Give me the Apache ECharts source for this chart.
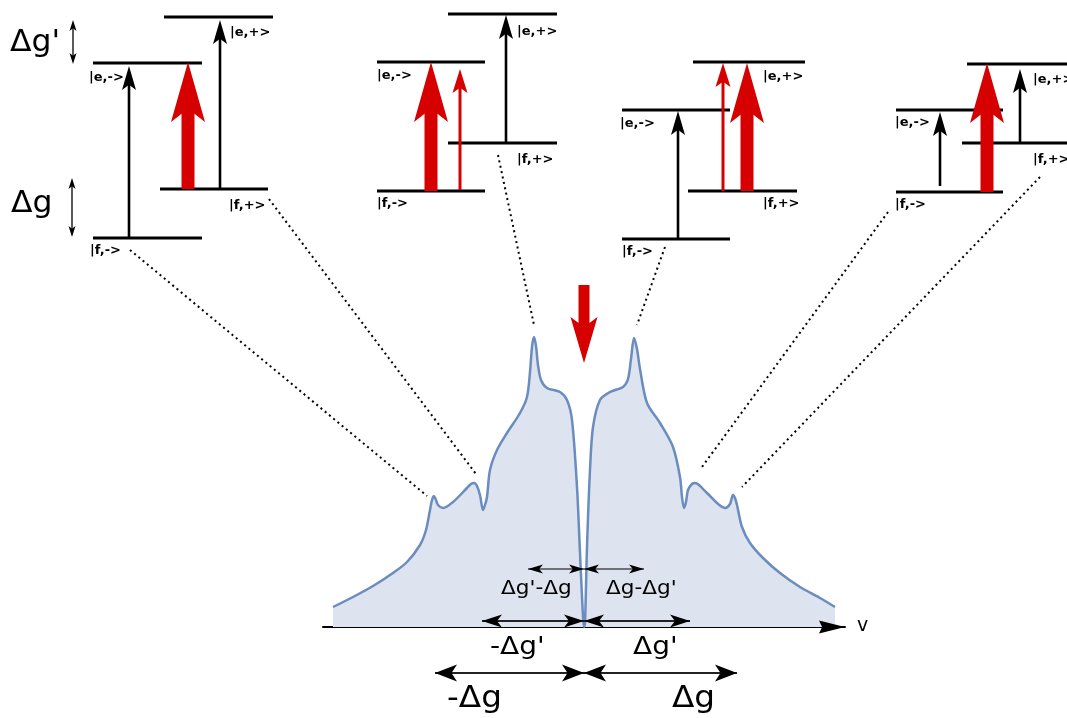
<!DOCTYPE html>
<html><head><meta charset="utf-8">
<script src="https://cdn.jsdelivr.net/npm/echarts@6/dist/echarts.min.js"></script>
<style>html,body{margin:0;padding:0;background:#fff}#c{width:1067px;height:718px}</style>
</head><body><div id="c"></div>
<script>
// ---- spectrum data (frequency offset ν from line centre, intensity) ----
const nuLeft = [-251,-231,-211,-191,-177,-164,-158,-154,-152,-150,-148,-146,-141,-131,-117,-113,-110,-107,-104,-101,-99,-97,-94,-87,-77,-64,-57,-54,-52,-50,-48,-46,-43,-37,-24,-17,-12,-7,-4,-1,0];
const intLeft = [20,30,41,54,65,82,97,117,127,131,127,122,119,125,139,143,144,141,132,117,122,130,157,177,194,214,230,255,280,290,281,262,247,239,235,227,207,140,74,10,0];
const nuRight = [1,3,6,9,16,26,39,44,47,50,53,56,63,76,89,96,98,100,102,104,108,111,115,123,141,146,149,151,153,158,166,179,196,216,236,251];
const intRight = [4,80,157,200,227,235,240,248,268,289,278,258,224,204,180,150,130,119,125,137,143,144,142,134,119,123,132,129,122,100,84,69,54,40,29,20];
// ---- labels ----
const levelLabels = ['|e,+>', '|e,->', '|f,+>', '|f,->'];
const gapLabels = ["Δg'", 'Δg'];
const spanLabels = ["Δg'-Δg", "Δg-Δg'", "-Δg'", "Δg'", '-Δg', 'Δg'];
const spanFrom = [0, 0, 0, 0, 0, 0];
const spanTo = [-56, 60, -102, 106, -149, 153];
const spanLevel = [58, 58, 6, 6, -46, -46];
const axisName = 'v';

const spectrum = nuLeft.map((v, i) => [v, intLeft[i]]).concat(nuRight.map((v, i) => [v, intRight[i]]));

const chart = echarts.init(document.getElementById('c'), null, {renderer: 'canvas'});
chart.setOption({
  animation: false,
  backgroundColor: '#fff',
  grid: {left: 323, right: 222, top: 327, bottom: 91},
  xAxis: {
    type: 'value', min: -261, max: 261,
    axisLine: {show: true, onZero: false, lineStyle: {color: '#000', width: 2}},
    axisTick: {show: false}, axisLabel: {show: false}, splitLine: {show: false}
  },
  yAxis: {type: 'value', min: 0, max: 300, show: false, splitLine: {show: false}},
  series: [{
    type: 'line', data: spectrum, smooth: 0.3, showSymbol: false,
    lineStyle: {color: '#6b8cbe', width: 2.5},
    areaStyle: {color: '#dde3ef', opacity: 1}
  }]
});

// ---------- annotation helpers ----------
const G = [];
function seg(x1, y1, x2, y2, w, color, dash) {
  G.push({type: 'line', shape: {x1, y1, x2, y2}, style: {stroke: color || '#000', lineWidth: w, lineDash: dash || null}, z: 10});
}
function vArrow(x, yTail, yTip, shaft, hw, hl, color) {
  const dir = yTip < yTail ? 1 : -1; // 1 = pointing up
  const back = yTip + dir * hl;
  const join = yTip + dir * hl * 0.6;
  G.push({type: 'rect', shape: {x: x - shaft / 2, y: Math.min(join, yTail), width: shaft, height: Math.abs(yTail - join)}, style: {fill: color}, z: 11});
  G.push({type: 'polygon', shape: {points: [[x, yTip], [x + hw / 2, back], [x, yTip + dir * hl * 0.78], [x - hw / 2, back]]}, style: {fill: color}, z: 11});
}
function hHead(xt, y, dir, hw, hl, notch) {
  const n = notch || 0.75;
  G.push({type: 'polygon', shape: {points: [[xt, y], [xt - dir * hl, y - hw / 2], [xt - dir * hl * n, y], [xt - dir * hl, y + hw / 2]]}, style: {fill: '#000'}, z: 12});
}
function vHead(x, yt, dir, hw, hl) { // dir 1 = pointing down
  G.push({type: 'polygon', shape: {points: [[x, yt], [x - hw / 2, yt - dir * hl], [x, yt - dir * hl * 0.75], [x + hw / 2, yt - dir * hl]]}, style: {fill: '#000'}, z: 12});
}
function txt(x, y, s, font, align, sx) {
  G.push({type: 'text', x, y, scaleX: sx || 1, style: {text: s, font, fill: '#000', align: align || 'left', verticalAlign: 'middle'}, z: 13});
}
const LBL = 'bold 13px "DejaVu Sans"';
function diagram(d) {
  d.levels.forEach(l => seg(l[0], l[2], l[1], l[2], 3, '#000'));
  d.arrows.forEach(a => {
    if (a.k === 'b') vArrow(a.x, a.y0, a.y1, 2.6, 14, 24, '#000');
    else if (a.k === 'R') vArrow(a.x, a.y0, a.y1, 13, 34, 60, '#d70000');
    else vArrow(a.x, a.y0, a.y1, 3, 15, 24, '#d70000');
  });
  d.labels.forEach((p, i) => txt(p[0], p[1], levelLabels[i], LBL));
}
// energy-level diagrams (layout in pixels)
diagram({levels: [[164, 273, 17], [93, 202, 63], [160, 268, 189], [93, 202, 238]],
  arrows: [{k: 'b', x: 129, y0: 238, y1: 66}, {k: 'R', x: 188, y0: 189, y1: 62}, {k: 'b', x: 220, y0: 189, y1: 20}],
  labels: [[230, 33], [89, 78], [229, 206], [90, 251]]});
diagram({levels: [[448, 557, 14], [377, 485, 62], [448, 557, 143], [377, 485, 191]],
  arrows: [{k: 'R', x: 431, y0: 191, y1: 62}, {k: 'r', x: 460, y0: 190, y1: 69}, {k: 'b', x: 506, y0: 143, y1: 15}],
  labels: [[517, 32], [377, 76], [517, 160], [377, 204]]});
diagram({levels: [[693, 805, 62], [622, 730, 110], [688, 797, 191], [622, 730, 239]],
  arrows: [{k: 'b', x: 678, y0: 239, y1: 111}, {k: 'r', x: 723, y0: 191, y1: 63}, {k: 'R', x: 747, y0: 191, y1: 63}],
  labels: [[763, 77], [620, 124], [763, 204], [622, 252]]});
diagram({levels: [[967, 1075, 64], [896, 1003, 110], [962, 1075, 143], [896, 1003, 192]],
  arrows: [{k: 'b', x: 940, y0: 186, y1: 112}, {k: 'R', x: 987, y0: 192, y1: 63}, {k: 'b', x: 1020, y0: 143, y1: 69}],
  labels: [[1033, 80], [895, 123], [1033, 160], [895, 205]]});

// gap indicators top-left
seg(73, 26, 73, 58, 1.3); vHead(73, 20, -1, 7, 11); vHead(73, 64, 1, 7, 11);
seg(72, 184, 72, 231, 1.3); vHead(72, 178, -1, 7, 11); vHead(72, 237, 1, 7, 11);
txt(10, 43, gapLabels[0], '30px "DejaVu Sans"', 'left', 1.05);
txt(11, 204, gapLabels[1], '30px "DejaVu Sans"', 'left', 1.05);

// dotted connectors
const DOT = [2, 3.5];
seg(130, 250, 427, 496, 2, '#000', DOT);
seg(269, 199, 476, 474, 2, '#000', DOT);
seg(498, 155, 534, 325, 2, '#000', DOT);
seg(665, 247, 637, 325, 2, '#000', DOT);
seg(888, 212, 702, 467, 2, '#000', DOT);
seg(1040, 177, 742, 487, 2, '#000', DOT);

// red probe arrow (top centre)
vArrow(584, 285, 363, 11, 27, 46, '#d70000');

// spectral span arrows, positioned through the chart's scales
const headSize = [[9, 15], [13, 20], [17, 22]];
const spanFont = ['20px "DejaVu Sans"', '25px "DejaVu Sans"', '30px "DejaVu Sans"'];
const spanScale = [1.08, 1.12, 1.09];
const spanTextX = [501, 606, 490, 633, 447, 672];
const spanTextY = [589, 589, 647, 647, 699, 699];
spanLabels.forEach((s, i) => {
  const a = chart.convertToPixel({gridIndex: 0}, [spanFrom[i], spanLevel[i]]);
  const b = chart.convertToPixel({gridIndex: 0}, [spanTo[i], spanLevel[i]]);
  const k = Math.floor(i / 2);
  const dir = b[0] > a[0] ? 1 : -1;
  seg(a[0], a[1], b[0], b[1], k === 0 ? 1.2 : 1.8, k === 0 ? '#000' : '#222');
  hHead(b[0], b[1], dir, headSize[k][0], headSize[k][1]);
  hHead(a[0], a[1], -dir, headSize[k][0], headSize[k][1]);
  txt(spanTextX[i], spanTextY[i], s, spanFont[k], 'left', spanScale[k]);
});
// axis arrow head and name
const end = chart.convertToPixel({gridIndex: 0}, [261, 0]);
hHead(end[0], end[1], 1, 13, 26, 0.88);
txt(end[0] + 12, end[1] - 1, axisName, '19px "DejaVu Sans"');

chart.setOption({graphic: {elements: G}});
</script></body></html>
